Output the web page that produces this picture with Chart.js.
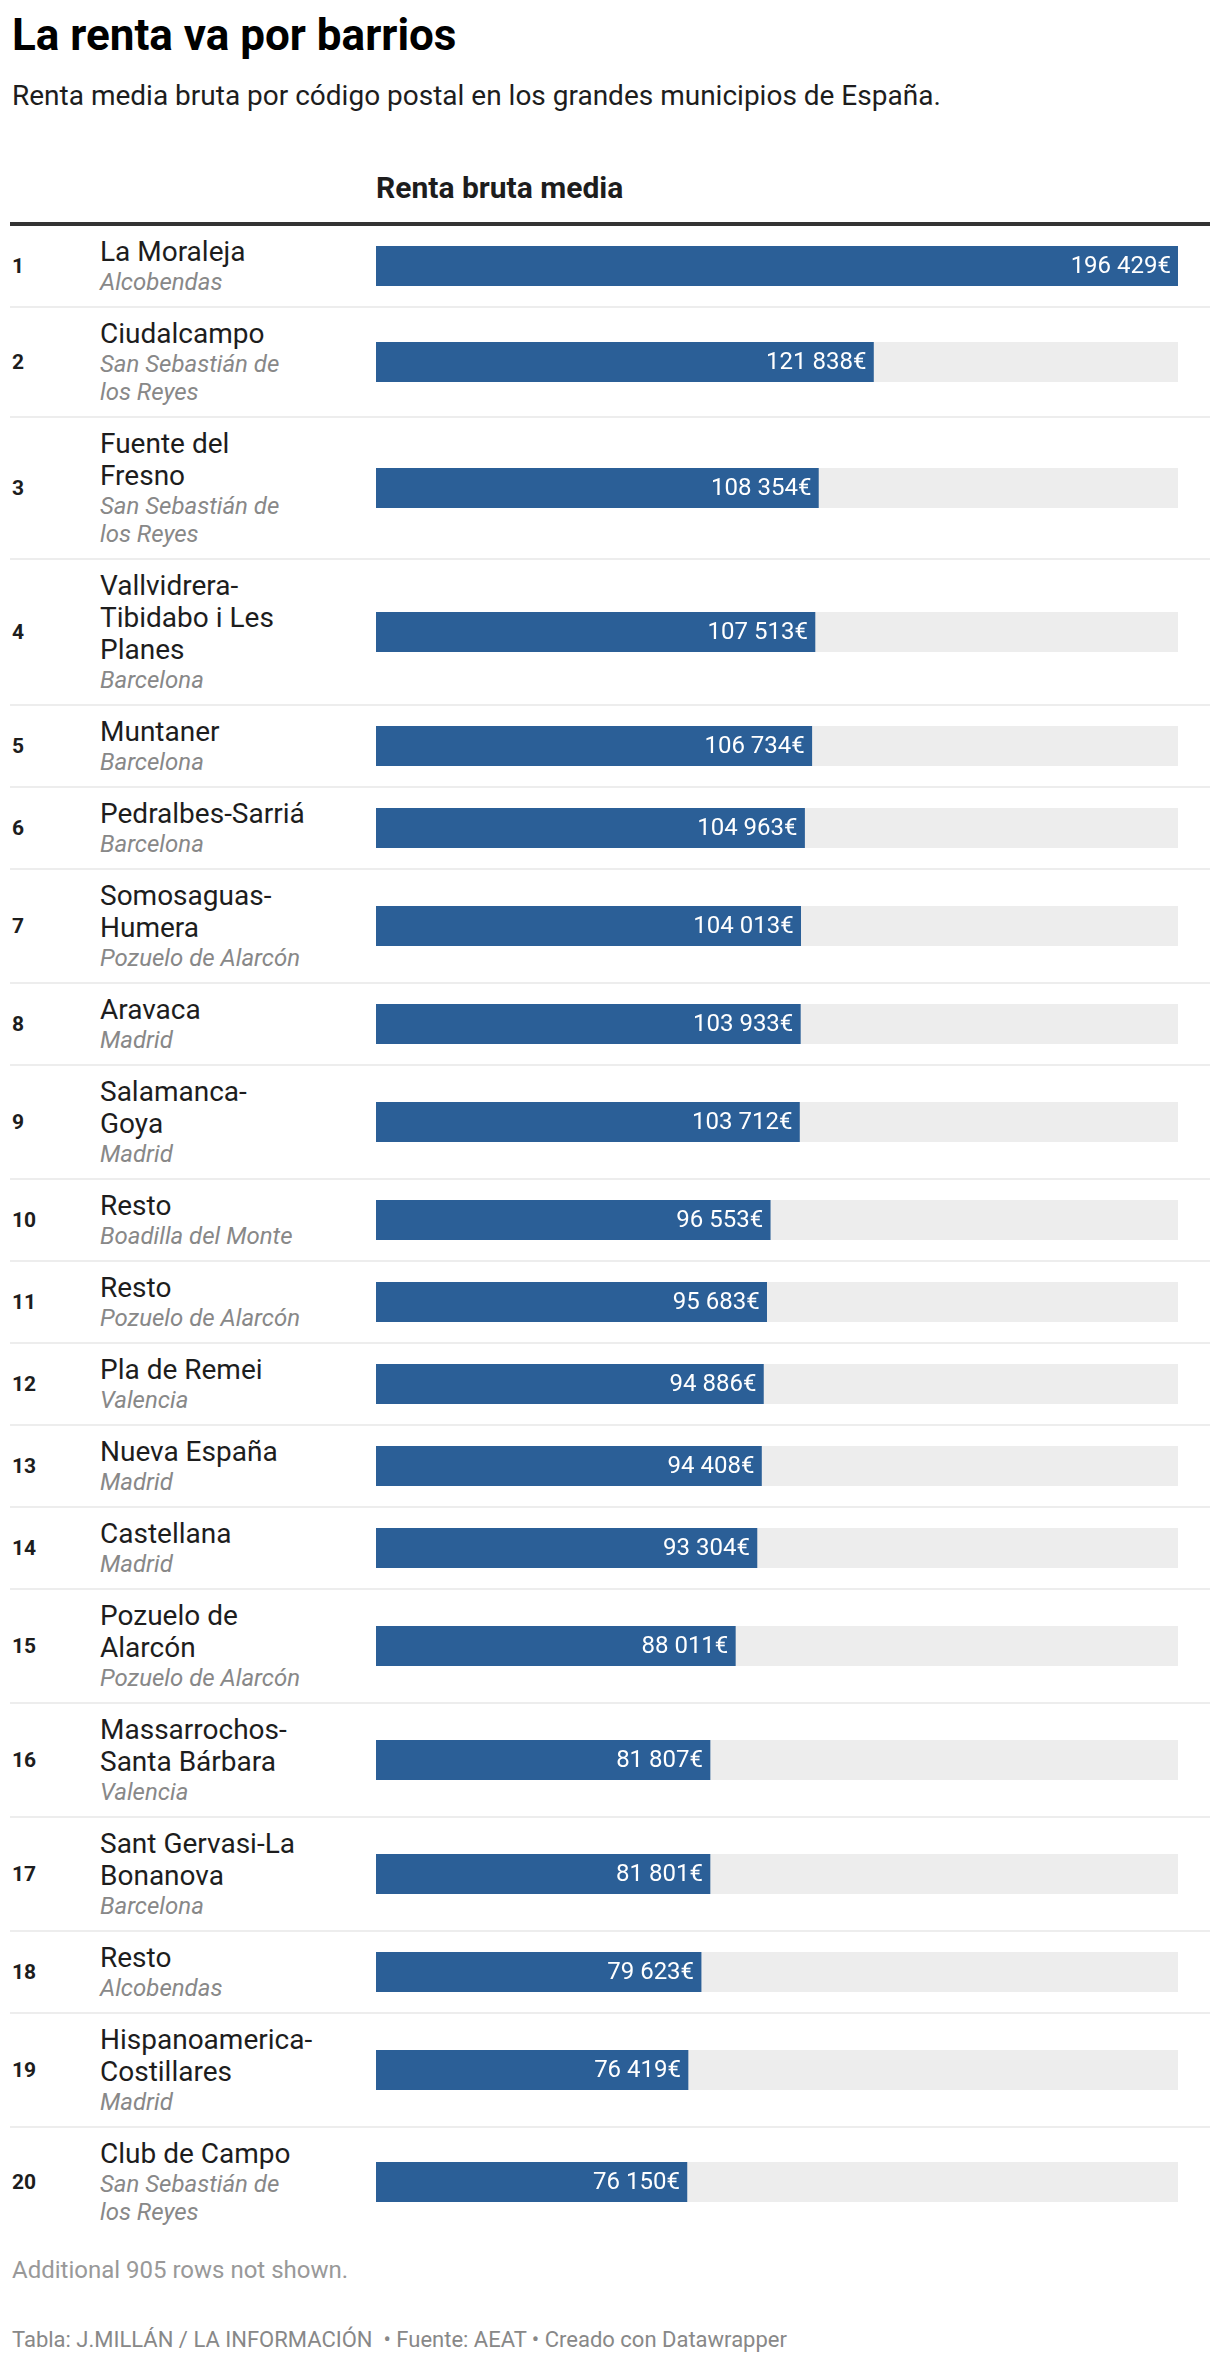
<!DOCTYPE html>
<html lang="es">
<head>
<meta charset="utf-8">
<title>La renta va por barrios</title>
<script src="https://cdn.jsdelivr.net/npm/chart.js@4.4.1/dist/chart.umd.min.js"></script>
<style>
  body { margin: 0; background: #fff; font-family: Roboto, "Noto Sans", sans-serif; color: #1d1d1d; }
  .wrap { width: 1200px; margin-left: 10px; }
  h1 { margin: 9px 0 0 2px; font-size: 44px; line-height: 52px; font-weight: 700; color: #000; }
  .sub { margin: 19px 0 0 2px; font-size: 28px; line-height: 32px; color: #1d1d1d; }
  .row { display: grid; grid-template-columns: 90px 276px 802px 32px; align-items: center; }
  .head { margin-top: 60px; padding-bottom: 18px; border-bottom: 4px solid #333; }
  .head .col { grid-column: 3; font-size: 30px; line-height: 32px; font-weight: 700; }
  .item { padding: 10px 0; border-bottom: 2px solid #ededed; }
  .item:last-child { border-bottom: none; }
  .rank { padding-left: 2px; font-size: 21px; font-weight: 700; }
  .name { font-size: 28px; line-height: 32px; white-space: pre-line; }
  .place { font-size: 24px; line-height: 28px; font-style: italic; color: #888; white-space: pre-line; }
  .bar { position: relative; width: 802px; height: 40px; }
  .more { margin: 20px 0 0 2px; font-size: 24px; line-height: 28px; color: #999; }
  .foot { margin: 43px 0 0 2px; font-size: 22px; line-height: 26px; color: #888; white-space: pre; }
</style>
</head>
<body>
<div class="wrap">
  <h1>La renta va por barrios</h1>
  <div class="sub">Renta media bruta por código postal en los grandes municipios de España.</div>
  <div class="row head"><div class="col">Renta bruta media</div></div>
  <div id="rows"></div>
  <div class="more">Additional 905 rows not shown.</div>
  <div class="foot">Tabla: J.MILLÁN / LA INFORMACIÓN  • Fuente: AEAT • Creado con Datawrapper</div>
</div>

<script>
// Datos (AEAT, renta media bruta por código postal)
const barrios = [
  'La Moraleja', 'Ciudalcampo', 'Fuente del\nFresno', 'Vallvidrera-\nTibidabo i Les\nPlanes',
  'Muntaner', 'Pedralbes-Sarriá', 'Somosaguas-\nHumera', 'Aravaca', 'Salamanca-\nGoya',
  'Resto', 'Resto', 'Pla de Remei', 'Nueva España', 'Castellana', 'Pozuelo de\nAlarcón',
  'Massarrochos-\nSanta Bárbara', 'Sant Gervasi-La\nBonanova', 'Resto', 'Hispanoamerica-\nCostillares',
  'Club de Campo'
];
const municipios = [
  'Alcobendas', 'San Sebastián de\nlos Reyes', 'San Sebastián de\nlos Reyes', 'Barcelona',
  'Barcelona', 'Barcelona', 'Pozuelo de Alarcón', 'Madrid', 'Madrid',
  'Boadilla del Monte', 'Pozuelo de Alarcón', 'Valencia', 'Madrid', 'Madrid', 'Pozuelo de Alarcón',
  'Valencia', 'Barcelona', 'Alcobendas', 'Madrid',
  'San Sebastián de\nlos Reyes'
];
const renta = [
  196429, 121838, 108354, 107513, 106734, 104963, 104013, 103933, 103712, 96553,
  95683, 94886, 94408, 93304, 88011, 81807, 81801, 79623, 76419, 76150
];

const BLUE = '#2b5f97';
const TRACK = '#ededed';
const maxRenta = Math.max(...renta);

function formatEuro(v) {
  return String(v).replace(/\B(?=(\d{3})+(?!\d))/g, ' ') + '€';
}

// etiqueta blanca dentro de la barra, alineada a la derecha
const valueLabel = {
  id: 'valueLabel',
  afterDatasetsDraw(chart) {
    const bar = chart.getDatasetMeta(0).data[0];
    const ctx = chart.ctx;
    ctx.save();
    ctx.font = '24px Roboto';
    ctx.fillStyle = '#fff';
    ctx.textAlign = 'right';
    ctx.textBaseline = 'middle';
    ctx.fillText(formatEuro(chart.data.datasets[0].data[0]), bar.x - 7, bar.y + 1);
    ctx.restore();
  }
};

function buildRows() {
  const container = document.getElementById('rows');
  renta.forEach((v, i) => {
    const row = document.createElement('div');
    row.className = 'row item';
    row.innerHTML = `
      <div class="rank">${i + 1}</div>
      <div><div class="name"></div><div class="place"></div></div>
      <div class="bar"><canvas></canvas></div>`;
    row.querySelector('.name').textContent = barrios[i];
    row.querySelector('.place').textContent = municipios[i];
    container.appendChild(row);
    drawBar(row.querySelector('canvas'), i);
  });
}

function drawBar(canvas, i) {
  new Chart(canvas.getContext('2d'), {
    type: 'bar',
    data: {
      labels: [barrios[i]],
      datasets: [
        { data: [renta[i]], backgroundColor: BLUE, order: 0 },
        { data: [maxRenta], backgroundColor: TRACK, order: 1 }
      ]
    },
    options: {
      indexAxis: 'y',
      responsive: true,
      maintainAspectRatio: false,
      animation: false,
      events: [],
      layout: { padding: 0 },
      datasets: { bar: { grouped: false, barPercentage: 1, categoryPercentage: 1, borderWidth: 0 } },
      plugins: { legend: { display: false }, tooltip: { enabled: false } },
      scales: {
        x: { display: false, min: 0, max: maxRenta },
        y: { display: false }
      }
    },
    plugins: [valueLabel]
  });
}

document.addEventListener('DOMContentLoaded', buildRows);
</script>
</body>
</html>
